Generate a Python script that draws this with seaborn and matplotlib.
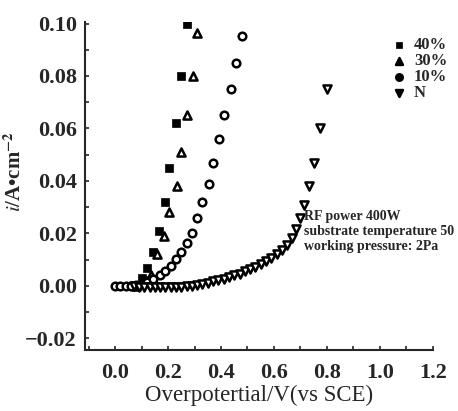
import numpy as np
import pandas as pd
import matplotlib
matplotlib.use("Agg")
import matplotlib.pyplot as plt
import seaborn as sns
from matplotlib.ticker import MultipleLocator

# ---- data ----
x40 = [0.08, 0.10, 0.12, 0.145, 0.165, 0.187, 0.205, 0.23, 0.25, 0.27]
y40 = [0.0005, 0.003, 0.007, 0.013, 0.021, 0.032, 0.045, 0.062, 0.080, 0.100]

x30 = [0.08, 0.10, 0.12, 0.135, 0.16, 0.183, 0.202, 0.232, 0.25, 0.27, 0.293, 0.31]
y30 = [0.0, 0.001, 0.002, 0.004, 0.012, 0.019, 0.028, 0.038, 0.051, 0.065, 0.080, 0.0965]

x10 = [0.0, 0.02, 0.04, 0.06, 0.08, 0.10, 0.12, 0.145, 0.168, 0.19, 0.21, 0.23, 0.25,
       0.27, 0.29, 0.309, 0.328, 0.354, 0.37, 0.392, 0.412, 0.438, 0.457, 0.48]
y10 = [0.0, 0.0, 0.0, 0.0, 0.0003, 0.0008, 0.0015, 0.0027, 0.0042, 0.0057, 0.0077, 0.0103,
       0.013, 0.0165, 0.020, 0.026, 0.032, 0.039, 0.047, 0.056, 0.065, 0.075, 0.085, 0.0954]

xN = [0.07, 0.09, 0.11, 0.13, 0.15, 0.17, 0.19, 0.21, 0.23, 0.25, 0.27, 0.29, 0.31, 0.33,
      0.35, 0.37, 0.39, 0.41, 0.43, 0.45, 0.47, 0.49, 0.51, 0.53, 0.55, 0.57, 0.59, 0.61,
      0.63, 0.65, 0.67, 0.685, 0.70, 0.712, 0.732, 0.751, 0.773, 0.80]
yN = [0.0, -0.0003, -0.0005, -0.0006, -0.0006, -0.0006, -0.0005, -0.0005, -0.0004, -0.0003,
      -0.0001, 0.0001, 0.0004, 0.0008, 0.0012, 0.0017, 0.0022, 0.0028, 0.0034, 0.0040,
      0.0047, 0.0055, 0.0063, 0.0072, 0.0082, 0.0093, 0.0106, 0.0120, 0.0137, 0.0157,
      0.0183, 0.0215, 0.026, 0.031, 0.038, 0.047, 0.060, 0.075]

labels = ["40%", "30%", "10%", "N"]
x_ticks = [0.0, 0.2, 0.4, 0.6, 0.8, 1.0, 1.2]
y_ticks = [-0.02, 0.00, 0.02, 0.04, 0.06, 0.08, 0.10]
note_lines = ["RF power 400W", "substrate temperature 50", "working pressure: 2Pa"]

sns.set_style("ticks")
plt.rcParams["font.family"] = ["Liberation Serif", "DejaVu Serif"]
plt.rcParams["mathtext.fontset"] = "stix"

fig = plt.figure(figsize=(4.58, 4.11), dpi=100)
ax = fig.add_axes([0.186, 0.148, 0.759, 0.798])

series = [
    (x40, y40, labels[0], dict(marker="s", s=26, color="black", edgecolor="black", linewidth=0.5)),
    (x30, y30, labels[1], dict(marker="^", s=34, facecolor="white", edgecolor="black", linewidth=1.8)),
    (x10, y10, labels[2], dict(marker="o", s=30, facecolor="white", edgecolor="black", linewidth=1.8)),
    (xN, yN, labels[3], dict(marker="v", s=34, facecolor="white", edgecolor="black", linewidth=1.8)),
]
for xs, ys, lab, kw in series:
    df = pd.DataFrame({"x": xs, "y": ys})
    sns.scatterplot(data=df, x="x", y="y", ax=ax, label=lab, zorder=3, **kw)

ax.set_xlim(-0.113, 1.2)
ax.set_ylim(-0.0245, 0.1005)
ax.set_xticks(x_ticks)
ax.set_xticklabels([f"{v:.1f}" for v in x_ticks])
ax.set_yticks(y_ticks)
ax.set_yticklabels([f"{v:.2f}".replace("-", "\u2212") for v in y_ticks])
ax.xaxis.set_minor_locator(MultipleLocator(0.1))
ax.yaxis.set_minor_locator(MultipleLocator(0.01))
ax.tick_params(axis="both", which="both", direction="in", length=3, width=1.2,
               labelsize=16, pad=6)
ax.tick_params(axis="x", pad=9)
for lab in ax.get_xticklabels() + ax.get_yticklabels():
    lab.set_fontweight("bold")

sns.despine(ax=ax)
for sp in ["left", "bottom"]:
    ax.spines[sp].set_linewidth(1.5)

ax.set_xlabel("Overpotertial/V(vs SCE)", fontsize=16.5)
ax.set_ylabel(r"$\mathbf{\mathit{i}}$/A•cm$^{\mathbf{-2}}$", fontsize=15, fontweight="bold")
ax.xaxis.set_label_coords(0.5, -0.107)
ax.yaxis.set_label_coords(-0.17, 0.545)

leg = ax.legend(loc="upper left", bbox_to_anchor=(0.855, 0.975), frameon=False,
                fontsize=12, handletextpad=0.3, labelspacing=0.0, borderaxespad=0.0,
                markerscale=0.85, handlelength=1.2)
for t in leg.get_texts():
    t.set_fontweight("bold")
for h in leg.legend_handles:
    h.set_facecolor("black")

ax.text(0.714, 0.0288, "\n".join(note_lines), fontsize=10, fontweight="bold",
        va="top", ha="left", linespacing=1.2)

fig.savefig("out.png", dpi=100)
